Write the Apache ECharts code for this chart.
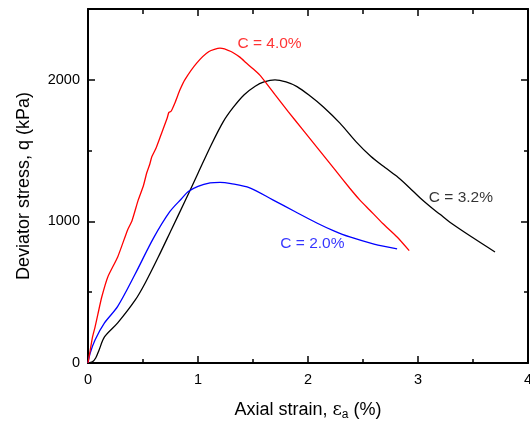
<!DOCTYPE html>
<html>
<head>
<meta charset="utf-8">
<script src="https://cdn.jsdelivr.net/npm/echarts@6/dist/echarts.min.js"></script>
<style>
  html, body { margin: 0; padding: 0; background: #fff; }
  #chart { width: 530px; height: 423px; }
</style>
</head>
<body>
<div id="chart"></div>
<script>
// C = 4.0% (red)
const redStrain = [0, 0.02, 0.04, 0.064, 0.09, 0.125, 0.18, 0.27, 0.36, 0.40, 0.457, 0.503, 0.533, 0.56, 0.58, 0.62, 0.67, 0.72, 0.735, 0.755, 0.79, 0.836, 0.88, 0.988, 1.1, 1.2, 1.3, 1.38, 1.44, 1.5, 1.56, 1.62, 1.7, 1.82, 1.95, 2.1, 2.25, 2.38, 2.47, 2.56, 2.68, 2.81, 2.92];
const redStress = [0, 90, 180, 254, 345, 466, 608, 749, 940, 1005, 1152, 1250, 1340, 1400, 1456, 1520, 1625, 1730, 1770, 1778, 1837, 1929, 2000, 2118, 2200, 2224, 2200, 2160, 2118, 2078, 2035, 1977, 1895, 1775, 1650, 1505, 1360, 1234, 1152, 1081, 985, 890, 794];

// C = 3.2% (black)
const blackStrain = [0, 0.04, 0.07, 0.1, 0.15, 0.27, 0.43, 0.52, 0.64, 0.76, 0.88, 1.0, 1.12, 1.23, 1.32, 1.42, 1.52, 1.6, 1.7, 1.8, 1.9, 2.02, 2.14, 2.29, 2.44, 2.57, 2.7, 2.82, 2.92, 3.02, 3.11, 3.2, 3.29, 3.5, 3.7];
const blackStress = [0, 8, 35, 90, 184, 283, 445, 565, 750, 945, 1140, 1340, 1540, 1705, 1805, 1895, 1955, 1985, 2000, 1985, 1952, 1885, 1808, 1694, 1560, 1460, 1380, 1310, 1240, 1165, 1105, 1050, 994, 884, 784];

// C = 2.0% (blue)
const blueStrain = [0, 0.02, 0.064, 0.15, 0.27, 0.43, 0.594, 0.745, 0.85, 0.912, 1.0, 1.11, 1.2, 1.3, 1.47, 1.68, 1.88, 2.08, 2.23, 2.38, 2.6, 2.81];
const blueStress = [0, 70, 163, 283, 400, 630, 880, 1070, 1160, 1211, 1248, 1272, 1276, 1267, 1237, 1152, 1070, 989, 935, 890, 840, 806];

// curve labels
const labelText = ["C = 4.0%", "C = 3.2%", "C = 2.0%"];
const labelStrain = [1.65, 3.39, 2.04];
const labelStress = [2254, 1166, 841];
const labelColor = ["#ff0000", "#000000", "#0000ff"];

const xTicks = ["0", "1", "2", "3", "4"];
const yTicks = ["0", "1000", "2000"];

function pairs(xs, ys) {
  return xs.map((x, i) => [x, ys[i]]);
}

const font = "Liberation Sans, Arial, sans-serif";
const myChart = echarts.init(document.getElementById("chart"));

const frameLine = { show: true, onZero: false, lineStyle: { color: "#000", width: 2 } };

const option = {
  animation: false,
  textStyle: { fontFamily: font },
  grid: { left: 88, right: 2, top: 9, bottom: 60, outerBoundsMode: "none", containLabel: false },
  xAxis: [
    {
      type: "value",
      position: "bottom",
      min: 0,
      max: 4,
      interval: 1,
      axisLine: frameLine,
      axisTick: { inside: true, length: 7, lineStyle: { width: 1.5 } },
      minorTick: { show: true, splitNumber: 2, length: 4, lineStyle: { color: "#000", width: 1.5 } },
      splitLine: { show: false },
      axisLabel: {
        color: "#000",
        fontSize: 14.5,
        margin: 9,
        formatter: (v) => xTicks[Math.round(v)] ?? "",
      },
      name: "Axial strain, {e|ε}{s|a} (%)",
      nameLocation: "middle",
      nameGap: 36,
      nameTextStyle: {
        color: "#000",
        fontSize: 18,
        rich: {
          e: { fontSize: 18, color: "#000", fontFamily: "DejaVu Serif" },
          s: { fontSize: 12, color: "#000", padding: [10, 0, 0, 0] },
        },
      },
    },
    {
      type: "value",
      position: "top",
      min: 0,
      max: 4,
      interval: 1,
      axisLine: frameLine,
      axisTick: { inside: true, length: 7, lineStyle: { width: 1.5 } },
      minorTick: { show: true, splitNumber: 2, length: 5, lineStyle: { color: "#000", width: 1.5 } },
      splitLine: { show: false },
      axisLabel: { show: false },
    },
  ],
  yAxis: [
    {
      type: "value",
      position: "left",
      min: 0,
      max: 2500,
      interval: 1000,
      axisLine: frameLine,
      axisTick: { inside: true, length: 7, lineStyle: { width: 1.5 } },
      splitLine: { show: false },
      axisLabel: {
        color: "#000",
        fontSize: 14.5,
        margin: 8,
        formatter: (v) => yTicks[v / 1000] ?? "",
      },
      name: "Deviator stress, q (kPa)",
      nameLocation: "middle",
      nameGap: 55,
      nameTextStyle: { color: "#000", fontSize: 18 },
    },
    {
      // minor ticks on the left
      type: "value",
      position: "left",
      min: 0,
      max: 2500,
      interval: 500,
      axisLine: { show: false, onZero: false },
      axisTick: { inside: true, length: 4, lineStyle: { color: "#000", width: 1.5 } },
      splitLine: { show: false },
      axisLabel: { show: false },
    },
    {
      type: "value",
      position: "right",
      min: 0,
      max: 2500,
      interval: 1000,
      axisLine: frameLine,
      axisTick: { inside: true, length: 7, lineStyle: { width: 1.5 } },
      splitLine: { show: false },
      axisLabel: { show: false },
    },
    {
      // minor ticks on the right
      type: "value",
      position: "right",
      min: 0,
      max: 2500,
      interval: 500,
      axisLine: { show: false, onZero: false },
      axisTick: { inside: true, length: 4, lineStyle: { color: "#000", width: 1.5 } },
      splitLine: { show: false },
      axisLabel: { show: false },
    },
  ],
  series: [
    {
      name: "C = 3.2%",
      type: "line",
      data: pairs(blackStrain, blackStress),
      showSymbol: false,
      smooth: 0.3,
      lineStyle: { color: "#000", width: 1.3 },
    },
    {
      name: "C = 2.0%",
      type: "line",
      data: pairs(blueStrain, blueStress),
      showSymbol: false,
      smooth: 0.3,
      lineStyle: { color: "#0000ff", width: 1.3 },
    },
    {
      name: "C = 4.0%",
      type: "line",
      data: pairs(redStrain, redStress),
      showSymbol: false,
      smooth: 0.2,
      lineStyle: { color: "#ff0000", width: 1.3 },
    },
    {
      type: "scatter",
      symbolSize: 0,
      data: labelText.map((t, i) => ({
        value: [labelStrain[i], labelStress[i]],
        label: {
          show: true,
          position: "inside",
          formatter: t,
          color: labelColor[i],
          fontSize: 15.5,
        },
      })),
    },
  ],
};

option && myChart.setOption(option, true);
</script>
</body>
</html>
